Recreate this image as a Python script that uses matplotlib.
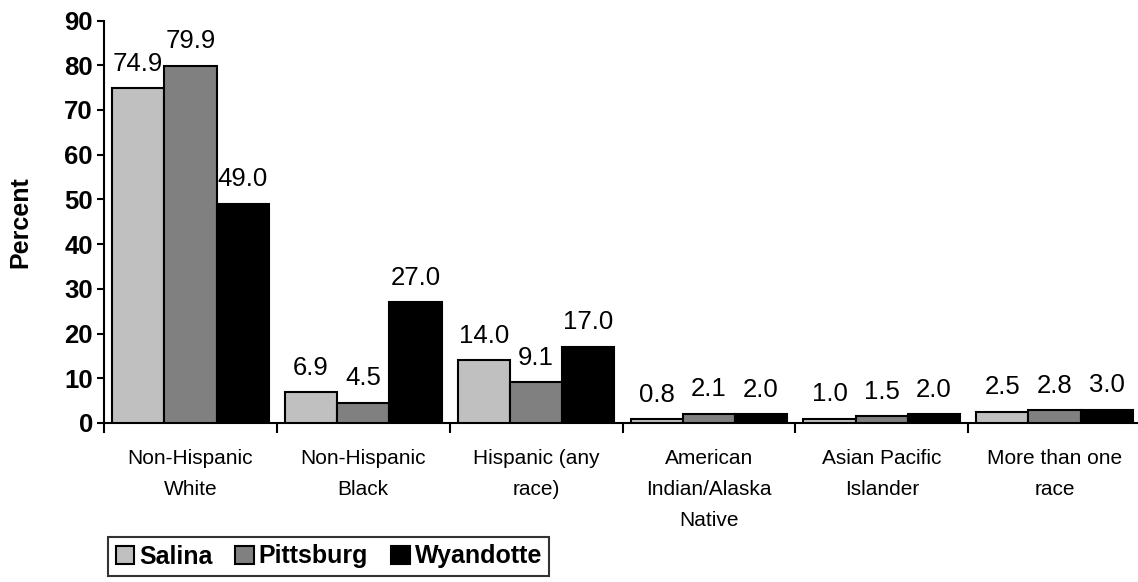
import matplotlib
matplotlib.use("Agg")
import matplotlib.pyplot as plt
import numpy as np
from matplotlib.ticker import FixedLocator

plt.rcParams['font.family'] = ['Liberation Sans', 'DejaVu Sans']

# race / ethnicity groups and percentages per county
categories = ["Non-Hispanic\nWhite", "Non-Hispanic\nBlack", "Hispanic (any\nrace)",
              "American\nIndian/Alaska\nNative", "Asian Pacific\nIslander", "More than one\nrace"]
series_names = ["Salina", "Pittsburg", "Wyandotte"]
salina = [74.9, 6.9, 14.0, 0.8, 1.0, 2.5]
pittsburg = [79.9, 4.5, 9.1, 2.1, 1.5, 2.8]
wyandotte = [49.0, 27.0, 17.0, 2.0, 2.0, 3.0]
y_ticks = [0, 10, 20, 30, 40, 50, 60, 70, 80, 90]

colors = ["#c0c0c0", "#808080", "#000000"]

fig = plt.figure(figsize=(11.38, 5.82), dpi=100)
ax = fig.add_axes([104 / 1138, 1 - 423 / 582, 1037 / 1138, 402.5 / 582])

x = np.arange(len(categories))
w = 0.302
handles = []
for i, (vals, name, c) in enumerate(zip([salina, pittsburg, wyandotte], series_names, colors)):
    bars = ax.bar(x + (i - 1) * w, vals, w, color=c, edgecolor="black", linewidth=1.5,
                  label=name, zorder=3)
    handles.append(bars)
    for b, v in zip(bars, vals):
        ax.annotate(f"{v:.1f}", (b.get_x() + b.get_width() / 2, v), xytext=(0, 9),
                    textcoords="offset points", ha="center", va="bottom", fontsize=18.5)

ax.set_xlim(-0.5, len(categories) - 0.5)
ax.set_ylim(0, 90)
ax.set_yticks(y_ticks)
ax.set_yticklabels([str(t) for t in y_ticks], fontsize=18.5, fontweight="bold")
ax.tick_params(axis="y", direction="out", length=5, width=1.5, pad=3)

# category names centred, separators as minor ticks
ax.set_xticks(x)
ax.set_xticklabels(categories, fontsize=15, linespacing=1.8)
ax.tick_params(axis="x", which="major", length=0, pad=19)
ax.xaxis.set_minor_locator(FixedLocator(np.arange(len(categories) + 1) - 0.5))
ax.tick_params(axis="x", which="minor", direction="out", length=7, width=1.5)

for s in ["top", "right"]:
    ax.spines[s].set_visible(False)
for s in ["left", "bottom"]:
    ax.spines[s].set_linewidth(1.5)

ax.set_ylabel("Percent", fontsize=18, fontweight="bold")
ax.yaxis.set_label_coords(-0.069, 0.5)

leg = fig.legend(handles=handles, loc="upper left", bbox_to_anchor=(108 / 1138, 1 - 537 / 582),
                 ncol=3, frameon=True, fancybox=False, edgecolor="black",
                 prop={"size": 18, "weight": "bold"}, handlelength=0.75, handleheight=0.75,
                 handletextpad=0.2, columnspacing=0.9, borderpad=0.3, borderaxespad=0)
leg.get_frame().set_linewidth(1.5)

fig.savefig("out.png", dpi=100)
